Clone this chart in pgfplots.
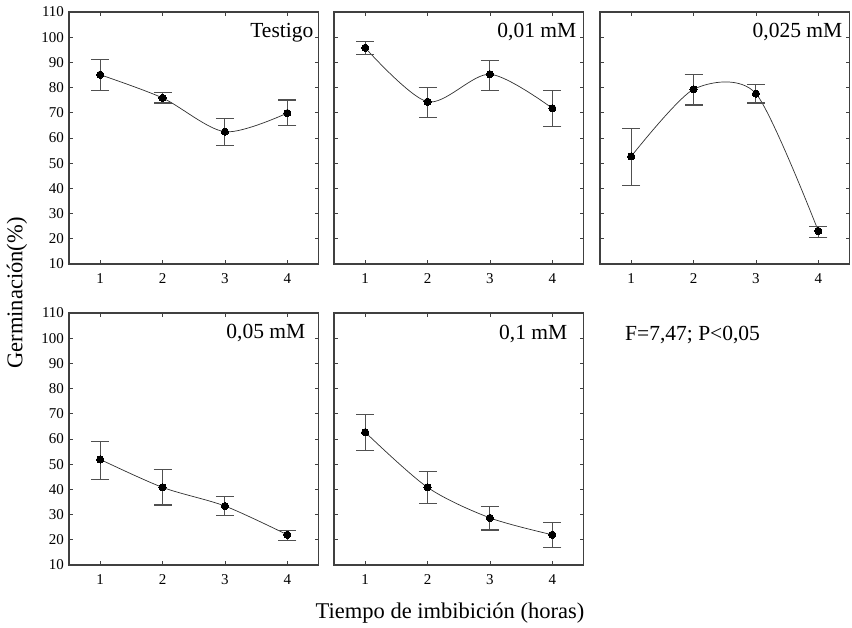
\documentclass[border=0pt]{standalone}
\usepackage{pgfplots}
\pgfplotsset{compat=1.18}
\usepackage{fontspec}
\setmainfont{Liberation Serif}

\definecolor{boxgray}{HTML}{404040}
\definecolor{bargray}{HTML}{505050}
\definecolor{curvegray}{HTML}{303030}

\newcommand{\tickfont}{\fontsize{15}{17}\selectfont}

\pgfplotsset{
    germ panel/.style={
            scale only axis,
            anchor=north west,
            width=249.5pt, height=252pt,
            xmin=0.5, xmax=4.5, ymin=10, ymax=110,
            xtick={1,2,3,4},
            ytick={10,20,...,110},
            xticklabel pos=lower, yticklabel pos=left,
            xtick pos=both, ytick pos=both,
            tick align=inside,
            major tick length=4pt,
            axis line style={boxgray, line width=1.1pt},
            tick style={boxgray, line width=0.8pt},
            /pgf/number format/assume math mode=true,
            xticklabel={\tickfont\pgfmathprintnumber{\tick}},
            yticklabel={\tickfont\pgfmathprintnumber{\tick}},
            xticklabel style={yshift=-6pt},
            yticklabel style={xshift=-1.5pt},
            clip=false,
        },
    no y labels/.style={yticklabel=\empty},
    germ line/.style={
            curvegray, line width=0.7pt, smooth,
            mark=*, mark size=3.6pt,
            mark options={black, fill=black, line width=0pt},
            error bars/y dir=both, error bars/y explicit,
            error bars/error bar style={bargray, line width=1.1pt},
            error bars/error mark options={rotate=90, mark size=9pt, bargray, line width=1.1pt},
        },
}
\newcommand{\paneltitle}[3]{% right pos, baseline pos, text
    \node[anchor=base east, inner sep=0pt, font=\fontsize{21.5}{24}\selectfont]
    at (rel axis cs:#1,#2) {#3};}

\begin{document}
\begin{tikzpicture}
    \useasboundingbox (0,0) rectangle (852pt,-627pt);

    % --- Row 1 ---
    \begin{axis}[germ panel, at={(69pt,-12pt)}]
        \addplot[germ line] coordinates {
                (1,85.1) += (0,6.0) -= (0,6.3)
                (2,75.9) += (0,2.0) -= (0,2.0)
                (3,62.5) += (0,5.4) -= (0,5.6)
                (4,69.9) += (0,5.2) -= (0,5.0)};
        \paneltitle{0.98}{0.897}{Testigo}
    \end{axis}

    \begin{axis}[germ panel, no y labels, at={(334pt,-12pt)}]
        \addplot[germ line] coordinates {
                (1,95.8) += (0,2.4) -= (0,2.5)
                (2,74.4) += (0,5.7) -= (0,6.1)
                (3,85.3) += (0,5.4) -= (0,6.3)
                (4,71.8) += (0,7.2) -= (0,7.4)};
        \paneltitle{0.972}{0.90}{0,01 mM}
    \end{axis}

    \begin{axis}[germ panel, no y labels, at={(600pt,-12pt)}]
        \addplot[germ line, tension=0.45] coordinates {
                (1,52.7) += (0,11.1) -= (0,11.4)
                (2,79.3) += (0,5.8) -= (0,6.2)
                (3,77.6) += (0,3.6) -= (0,3.7)
                (4,23.1) += (0,1.7) -= (0,2.7)};
        \paneltitle{0.972}{0.90}{0,025 mM}
    \end{axis}

    % --- Row 2 ---
    \begin{axis}[germ panel, at={(69pt,-313pt)}]
        \addplot[germ line] coordinates {
                (1,51.9) += (0,7.0) -= (0,7.9)
                (2,40.8) += (0,7.2) -= (0,7.0)
                (3,33.4) += (0,3.7) -= (0,3.8)
                (4,22.0) += (0,1.8) -= (0,2.4)};
        \paneltitle{0.948}{0.897}{0,05 mM}
    \end{axis}

    \begin{axis}[germ panel, no y labels, at={(334pt,-313pt)}]
        \addplot[germ line] coordinates {
                (1,62.7) += (0,6.9) -= (0,7.3)
                (2,40.8) += (0,6.4) -= (0,6.3)
                (3,28.7) += (0,4.4) -= (0,4.8)
                (4,22.0) += (0,4.7) -= (0,5.1)};
        \paneltitle{0.936}{0.893}{0,1 mM}
    \end{axis}

    % --- Shared labels and statistic ---
    \node[anchor=base west, inner sep=0pt, font=\fontsize{21.5}{24}\selectfont]
    at (625pt,-340pt) {F=7,47; P<0,05};
    \node[anchor=base, inner sep=0pt, font=\fontsize{22.5}{24}\selectfont]
    at (450pt,-618pt) {Tiempo de imbibición (horas)};
    \node[rotate=90, anchor=center, inner sep=0pt, font=\fontsize{22.5}{24}\selectfont]
    at (17pt,-293pt) {Germinación(\%)};
\end{tikzpicture}
\end{document}
